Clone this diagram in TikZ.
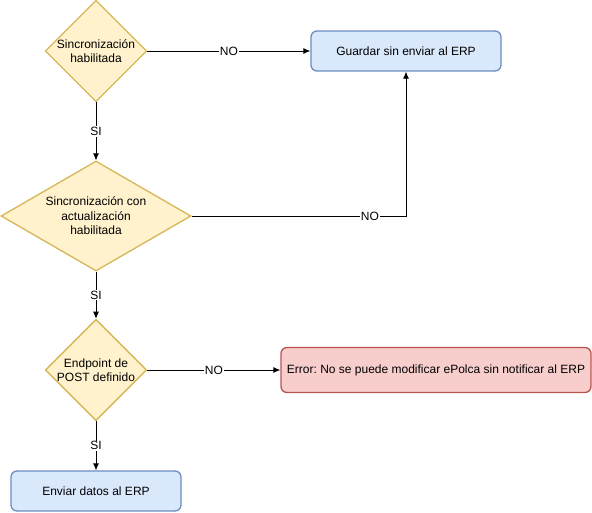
\documentclass[tikz,border=0pt]{standalone}
\usepackage{fontspec}
\setmainfont{Liberation Sans}
\usetikzlibrary{shapes.geometric,arrows.meta}
\definecolor{decfill}{HTML}{FFF2CC}
\definecolor{decline}{HTML}{D6B656}
\definecolor{okfill}{HTML}{DAE8FC}
\definecolor{okline}{HTML}{6C8EBF}
\definecolor{errfill}{HTML}{F8CECC}
\definecolor{errline}{HTML}{B85450}
\frenchspacing
\begin{document}
\begin{tikzpicture}[x=1pt,y=-1pt,
  every node/.style={font=\fontsize{12}{14.5}\selectfont},
  decision/.style={diamond, draw=decline, fill=decfill, line width=1.3pt, inner sep=0pt, align=center},
  okbox/.style={rectangle, rounded corners=6pt, draw=okline, fill=okfill, line width=1.3pt, align=center},
  errbox/.style={rectangle, rounded corners=6pt, draw=errline, fill=errfill, line width=1.3pt, align=center},
  lbl/.style={fill=white, inner sep=1pt},
  flow/.style={-{Latex[length=7pt,width=6pt]}, line width=0.8pt}]
  \useasboundingbox (0,0) rectangle (592,512);

  \node[decision, minimum width=100pt, minimum height=100pt] (sync) at (96,51) {Sincronización\\habilitada};
  \node[okbox, minimum width=190pt, minimum height=40pt] (guardar) at (406,51) {Guardar sin enviar al ERP};
  \node[decision, shape aspect=1.73, minimum width=190pt, minimum height=110pt] (syncact) at (96,216) {Sincronización con\\actualización\\habilitada};
  \node[decision, minimum width=100pt, minimum height=100pt] (endpoint) at (96,370) {Endpoint de\\POST definido};
  \node[errbox, minimum width=310pt, minimum height=45pt] (error) at (436,370) {Error: No se puede modificar ePolca sin notificar al ERP};
  \node[okbox, minimum width=170pt, minimum height=40pt] (enviar) at (96,491) {Enviar datos al ERP};

  \draw[flow] (sync.east) -- node[lbl]{NO} (guardar.west);
  \draw[flow] (sync.south) -- node[lbl]{SI} (syncact.north);
  \draw[flow] (syncact.east) -| node[lbl, pos=0.416]{NO} (guardar.south);
  \draw[flow] (syncact.south) -- node[lbl]{SI} (endpoint.north);
  \draw[flow] (endpoint.east) -- node[lbl]{NO} (error.west);
  \draw[flow] (endpoint.south) -- node[lbl]{SI} (enviar.north);
\end{tikzpicture}
\end{document}
